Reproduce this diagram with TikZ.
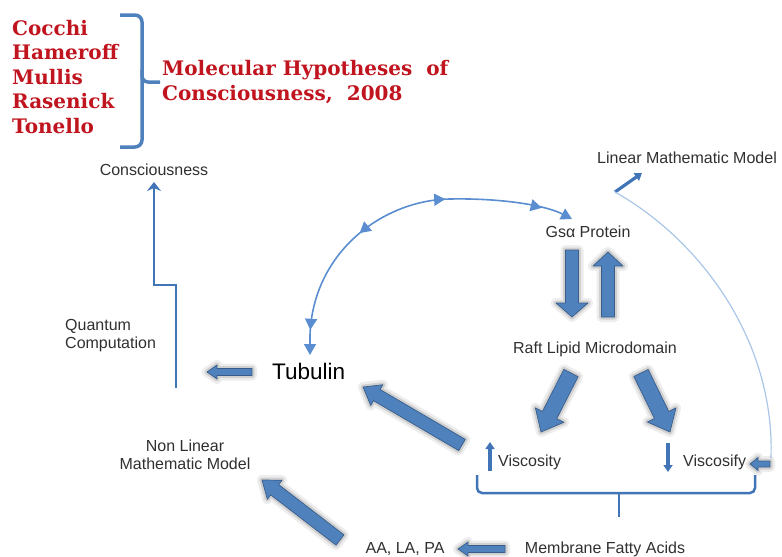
\documentclass[tikz,border=0pt]{standalone}
\usepackage{fontspec}
\usepackage{xcolor}
\usepackage{tikz}
\usetikzlibrary{calc,arrows.meta,decorations.markings}
\setmainfont{Liberation Sans}
\newfontfamily\redfont{DejaVu Serif}
\definecolor{fillblue}{HTML}{4F81BD}
\definecolor{edgeblue}{HTML}{385D8A}
\definecolor{lineblue}{HTML}{4274B8}
\definecolor{arcblue}{HTML}{5A8ED0}
\definecolor{paleblue}{HTML}{A9C6E8}
\definecolor{titlered}{HTML}{C0141E}
\definecolor{labelgrey}{HTML}{303030}

\newcommand{\fatarrow}[5]{%
  \coordinate (fa-n) at ($(#2)!#5!(#1)$);
  \filldraw[fatarr] ($(#1)!#3!90:(#2)$) -- ($(fa-n)!#3!-90:(#1)$) -- ($(fa-n)!#4!-90:(#1)$)
    -- (#2) -- ($(fa-n)!#4!90:(#1)$) -- ($(fa-n)!#3!90:(#1)$) -- ($(#1)!#3!-90:(#2)$) -- cycle;
}

\begin{document}
\begin{tikzpicture}[x=1pt,y=-1pt,
    lbl/.style={inner sep=0pt, text=labelgrey, font=\fontsize{16}{18}\selectfont},
    redlbl/.style={inner sep=0pt, text=titlered, font=\redfont\bfseries\fontsize{20}{24}\selectfont},
    fatarr/.style={fill=fillblue, draw=edgeblue, line width=0.7pt, line join=round,
      preaction={draw=black, opacity=0.07, line width=10pt, line join=round},
      preaction={draw=black, opacity=0.12, line width=5pt, line join=round}},
    blueline/.style={draw=lineblue, line width=2.5pt},
    thinarrow/.style={draw=lineblue, line width=3.2pt, -{Triangle[length=7pt,width=9pt]}},
    arcline/.style={draw=arcblue, line width=1.6pt,
      {Triangle[length=11pt,width=12pt]}-{Triangle[length=11pt,width=12pt]},
      postaction={decorate, decoration={markings,
        mark=at position 0.07 with {\arrowreversed{Triangle[length=11pt,width=12pt]}},
        mark=at position 0.38 with {\arrowreversed{Triangle[length=11pt,width=12pt]}},
        mark=at position 0.64 with {\arrow{Triangle[length=11pt,width=12pt]}},
        mark=at position 0.91 with {\arrow{Triangle[length=11pt,width=12pt]}}}}}]
    \useasboundingbox (0,0) rectangle (782,557);

    \foreach \nm [count=\i] in {Cocchi,Hameroff,Mullis,Rasenick,Tonello}
        \node[redlbl, anchor=base west] (au\i) at (12,35+24.5*\i-24.5) {\nm};
    \node[redlbl, anchor=base west] (ttl1) at (162,75) {Molecular Hypotheses\ \ of};
    \node[redlbl, anchor=base west] (ttl2) at (162,100) {Consciousness,\ \ 2008};
    \draw[draw=fillblue, line width=3.5pt, rounded corners=7pt] (120,15) -- (142,15) -- (142,147) -- (120,147);
    \draw[draw=fillblue, line width=3.5pt, rounded corners=6pt] (142,70) |- (160,82);

    \node[lbl] (cons) at (154,170) {Consciousness};
    \node[lbl, align=left, anchor=west] (qc) at (65,336) {Quantum\\Computation};
    \node[inner sep=0pt, font=\fontsize{22.5}{26}\selectfont, anchor=west] (tub) at (272,371) {Tubulin};
    \node[lbl] (gs) at (588,232) {Gsα Protein};
    \node[lbl, anchor=west] (lin) at (597,158) {Linear Mathematic Model};
    \node[lbl] (raft) at (595,349) {Raft Lipid Microdomain};
    \node[lbl, anchor=west] (visup) at (498,462) {Viscosity};
    \node[lbl, anchor=west] (visdn) at (683,462) {Viscosify};
    \node[lbl, align=center] (nlm) at (185,455) {Non Linear\\Mathematic Model};
    \node[lbl] (aa) at (405,549) {AA, LA, PA};
    \node[lbl] (mfa) at (605,549) {Membrane Fatty Acids};

    \coordinate (qc-bot) at (176,388);
    \coordinate (cons-in) at (154,182);
    \draw[blueline, -{Stealth[length=9pt,width=14pt,inset=3pt]}] (qc-bot) -- (176,285) -- (154,285) -- (cons-in);

    \coordinate (tub-top) at (310,355);
    \coordinate (gs-in) at (572,219);
    \draw[arcline] (tub-top) -- (310,335) .. controls (313,252) and (383,200) .. (450,199)
        .. controls (500,198) and (545,205) .. (gs-in);

    \coordinate (lin-a) at (615,192);
    \coordinate (lin-b) at (642,173);
    \coordinate (vd-in) at (771,458);
    \draw[thinarrow] (lin-a) -- (lin-b);
    \draw[draw=paleblue, line width=1.2pt] (lin-a) .. controls (700,240) and (775,340) .. (vd-in);

    \coordinate (vu-a) at (490,471);
    \coordinate (vu-b) at (490,442);
    \coordinate (vd-a) at (668,443);
    \coordinate (vd-b) at (668,472);
    \draw[thinarrow] (vu-a) -- (vu-b);
    \draw[thinarrow] (vd-a) -- (vd-b);

    \draw[blueline, rounded corners=5pt] (477,475) -- (477,493) -- (755,493) -- (755,475);
    \draw[blueline] (619,493) -- (619,517);

    \fatarrow{252,372}{207,372}{3.5pt}{7pt}{10pt}
    \fatarrow{770,464}{750,464}{3pt}{6.5pt}{8pt}
    \fatarrow{505,549}{458,549}{3.5pt}{7pt}{10pt}
    \fatarrow{572,250}{572,317}{6.5pt}{16pt}{14pt}
    \fatarrow{608,317}{608,252}{6.5pt}{15pt}{14pt}
    \fatarrow{571,373}{541,432}{8pt}{16pt}{19pt}
    \fatarrow{641,373}{670,432}{8pt}{16pt}{19pt}
    \fatarrow{462,445}{363,387}{6.5pt}{12pt}{16pt}
    \fatarrow{340,540}{262,480}{6.5pt}{12pt}{16pt}
\end{tikzpicture}
\end{document}
